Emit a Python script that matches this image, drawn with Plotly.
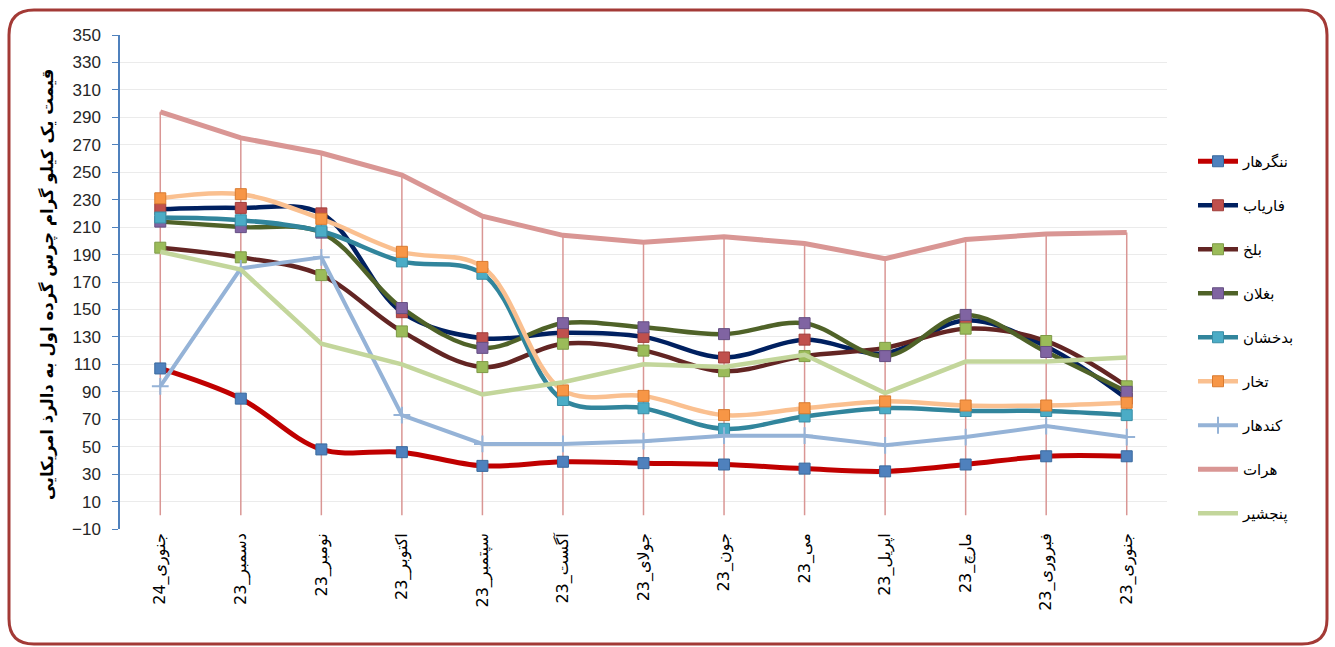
import plotly.graph_objects as go

categories = ["جنوری_24", "دسمبر_23", "نومبر_23", "اکتوبر_23", "سپتمبر_23", "آگست_23",
              "جولای_23", "جون_23", "می_23", "اپریل_23", "مارچ_23", "فبروری_23", "جنوری_23"]

nangarhar = [107, 85, 48, 46, 36, 39, 38, 37, 34, 32, 37, 43, 43]
faryab = [223, 224, 220, 148, 129, 133, 130, 115, 128, 118, 142, 123, 85]
balkh = [195, 188, 175, 134, 108, 125, 120, 105, 116, 122, 136, 127, 94]
baghlan = [214, 210, 206, 151, 122, 140, 137, 132, 140, 116, 146, 119, 90]
badakhshan = [217, 215, 207, 185, 176, 84, 78, 63, 72, 78, 76, 76, 73]
takhar = [231, 234, 216, 192, 181, 91, 87, 73, 78, 83, 80, 80, 82]
kandahar = [94, 180, 188, 73, 52, 52, 54, 58, 58, 51, 57, 65, 57]
herat = [294, 275, 264, 248, 218, 204, 199, 203, 198, 187, 201, 205, 206]
panjshir = [192, 179, 125, 110, 88, 97, 110, 108, 117, 89, 112, 112, 115]

W, H = 1335, 647
ML, MR, MT, MB = 120, 168, 35, 118
PW, PH = W - ML - MR, H - MT - MB


def px(xp):
    return (xp - ML) / PW


def py(yp):
    return (H - MB - yp) / PH


ARABIC = "DejaVu Sans"
fig = go.Figure()

# drop lines from 0 up to the highest series (Herat)
dx, dy = [], []
for c, v in zip(categories, herat):
    dx += [c, c, None]
    dy += [0, v, None]
fig.add_trace(go.Scatter(x=dx, y=dy, mode="lines", line=dict(color="#D99694", width=1.5),
                         showlegend=False, hoverinfo="skip"))

series = [
    ("ننگرهار", nangarhar, "#C00000", "#4F81BD", "#3A6A9E", "spline", 5),
    ("فاریاب", faryab, "#002060", "#C0504D", "#A03E3B", "spline", 4.5),
    ("بلخ", balkh, "#632523", "#9BBB59", "#7E9A47", "spline", 4.5),
    ("بغلان", baghlan, "#4F6228", "#8064A2", "#654F82", "spline", 4.5),
    ("بدخشان", badakhshan, "#31859C", "#4BACC6", "#3A8EA6", "spline", 4.5),
    ("تخار", takhar, "#FAC090", "#F79646", "#D97B30", "spline", 4.5),
]
for i, (name, vals, lc, mc, mlc, shape, lw) in enumerate(series):
    fig.add_trace(go.Scatter(
        x=categories, y=vals, name=name, mode="lines+markers", legendgroup=str(i),
        line=dict(color=lc, width=lw, shape=shape, smoothing=1),
        marker=dict(symbol="square", size=11, color=mc, line=dict(color=mlc, width=1))))

fig.add_trace(go.Scatter(
    x=categories, y=kandahar, name="کندهار", mode="lines+markers", legendgroup="6",
    line=dict(color="#95B3D7", width=4),
    marker=dict(symbol="cross-thin", size=12, color="#95B3D7", line=dict(color="#95B3D7", width=2))))
fig.add_trace(go.Scatter(
    x=categories, y=herat, name="هرات", mode="lines", legendgroup="7",
    line=dict(color="#D99694", width=5)))
fig.add_trace(go.Scatter(
    x=categories, y=panjshir, name="پنجشیر", mode="lines", legendgroup="8",
    line=dict(color="#C3D69B", width=4.5)))

r = 25
x0, x1 = px(9), px(1327)
y0, y1 = py(10), py(644)
rx, ry = r / PW, r / PH
border = (f"M {x0+rx},{y0} L {x1-rx},{y0} Q {x1},{y0} {x1},{y0-ry} "
          f"L {x1},{y1+ry} Q {x1},{y1} {x1-rx},{y1} L {x0+rx},{y1} Q {x0},{y1} {x0},{y1+ry} "
          f"L {x0},{y0-ry} Q {x0},{y0} {x0+rx},{y0} Z")

fig.update_layout(
    width=W, height=H,
    margin=dict(l=ML, r=MR, t=MT, b=MB),
    paper_bgcolor="white", plot_bgcolor="white",
    showlegend=True,
    legend=dict(x=px(1193), y=py(145), xanchor="left", yanchor="top",
                font=dict(family=ARABIC, size=15, color="#000000"),
                tracegroupgap=21.5, itemwidth=40, bgcolor="rgba(0,0,0,0)"),
    shapes=[dict(type="path", xref="paper", yref="paper", path=border,
                 line=dict(color="#A33A36", width=3), layer="below")],
    annotations=[dict(text="قیمت یک کیلو گرام چرس گرده اول به دالرذ امریکایی",
                      xref="paper", yref="paper", x=px(47), y=py(285),
                      xanchor="center", yanchor="middle",
                      textangle=-90, showarrow=False,
                      font=dict(family=ARABIC, size=16.5, color="#000000", weight="bold"))],
    xaxis=dict(type="category", range=[-0.5, 12.5], tickangle=-90, showgrid=False,
               showline=False, zeroline=False, ticks="",
               tickfont=dict(family=ARABIC, size=16, color="#000000")),
    yaxis=dict(range=[-10, 350], tick0=-10, dtick=20, showgrid=True, gridcolor="#EBEBEB",
               gridwidth=1, zeroline=False, showline=True, linecolor="#4F81BD", linewidth=1.5,
               ticks="outside", ticklen=6, tickcolor="#4F81BD", ticklabelstandoff=8,
               tickfont=dict(family="Liberation Sans", size=17, color="#262626")),
)

fig.write_html("out.html", config={"displayModeBar": False},
               post_script="document.body.style.margin='0';")
